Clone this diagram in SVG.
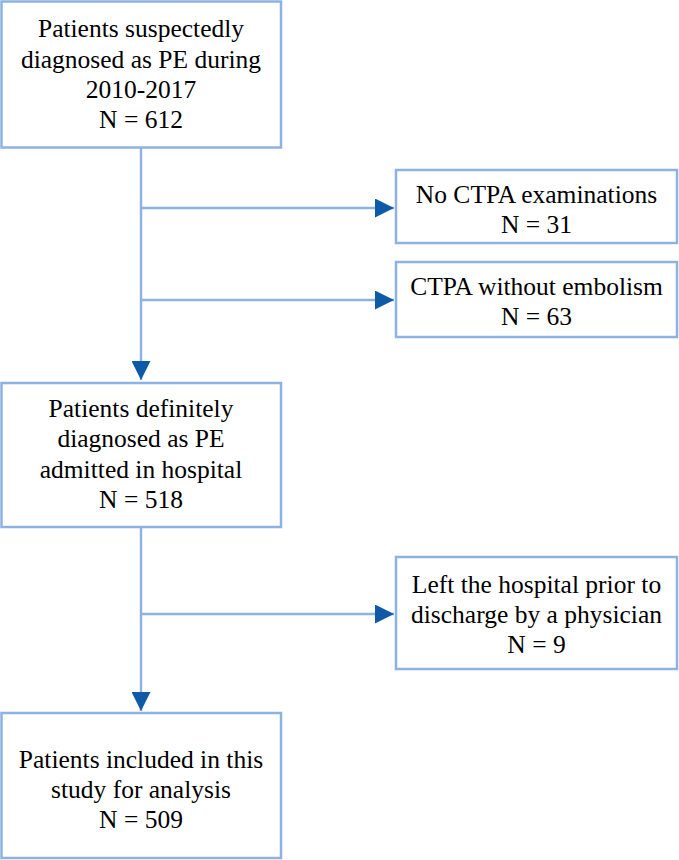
<svg xmlns="http://www.w3.org/2000/svg" width="679" height="860" viewBox="0 0 679 860">
  <style>
    .box { fill: #ffffff; stroke: #8DB3E2; stroke-width: 2.5; }
    .conn { stroke: #8DB3E2; stroke-width: 2.5; fill: none; }
    .t { font-family: "Liberation Serif", "Times New Roman", serif; font-size: 25.5px; fill: #000000; text-anchor: middle; }
  </style>
  <defs>
    <marker id="arr" markerUnits="userSpaceOnUse" markerWidth="19" markerHeight="19" refX="19" refY="9.5" orient="auto">
      <path d="M0,0 L19,9.5 L0,19 Z" fill="#0E5AA7"/>
    </marker>
  </defs>
  <rect width="679" height="860" fill="#ffffff"/>
  <g id="connectors">
    <line class="conn" x1="141" y1="148" x2="141" y2="380" marker-end="url(#arr)"/>
    <line class="conn" x1="141" y1="208" x2="394" y2="208" marker-end="url(#arr)"/>
    <line class="conn" x1="141" y1="300" x2="394" y2="300" marker-end="url(#arr)"/>
    <line class="conn" x1="141" y1="527" x2="141" y2="711" marker-end="url(#arr)"/>
    <line class="conn" x1="141" y1="614" x2="394" y2="614" marker-end="url(#arr)"/>
  </g>
  <g id="n1">
    <rect class="box" x="1.5" y="1.5" width="279.5" height="146"/>
    <text class="t" x="141" y="37">Patients suspectedly</text>
    <text class="t" x="141" y="68">diagnosed as PE during</text>
    <text class="t" x="141" y="98">2010-2017</text>
    <text class="t" x="141" y="128">N = 612</text>
  </g>
  <g id="n2">
    <rect class="box" x="396" y="170" width="281" height="73"/>
    <text class="t" x="536.5" y="203">No CTPA examinations</text>
    <text class="t" x="536.5" y="233">N = 31</text>
  </g>
  <g id="n3">
    <rect class="box" x="396" y="262" width="281" height="75"/>
    <text class="t" x="536.5" y="295">CTPA without embolism</text>
    <text class="t" x="536.5" y="325">N = 63</text>
  </g>
  <g id="n4">
    <rect class="box" x="1.5" y="383" width="279.5" height="144"/>
    <text class="t" x="141" y="417">Patients definitely</text>
    <text class="t" x="141" y="447">diagnosed as PE</text>
    <text class="t" x="141" y="478">admitted in hospital</text>
    <text class="t" x="141" y="508">N = 518</text>
  </g>
  <g id="n5">
    <rect class="box" x="396" y="557" width="281" height="112"/>
    <text class="t" x="536.5" y="593">Left the hospital prior to</text>
    <text class="t" x="536.5" y="623">discharge by a physician</text>
    <text class="t" x="536.5" y="653">N = 9</text>
  </g>
  <g id="n6">
    <rect class="box" x="1.5" y="713" width="279.5" height="145"/>
    <text class="t" x="141" y="768">Patients included in this</text>
    <text class="t" x="141" y="798">study for analysis</text>
    <text class="t" x="141" y="828">N = 509</text>
  </g>
</svg>
